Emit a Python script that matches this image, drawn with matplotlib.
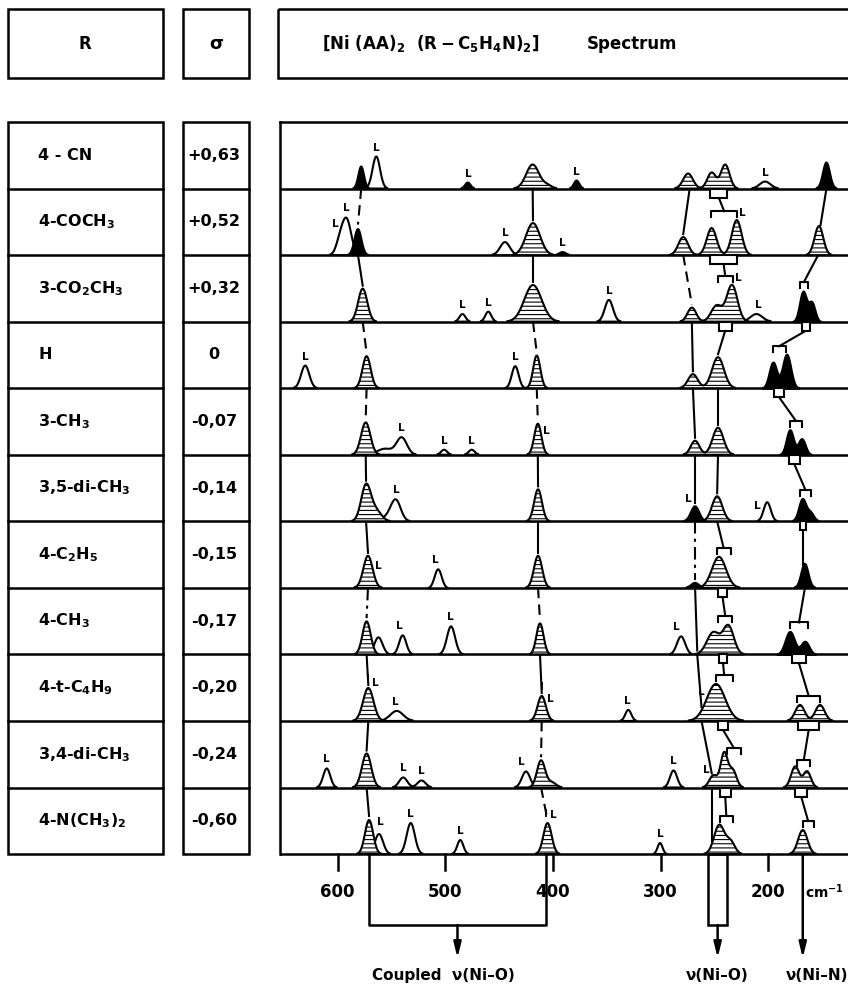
import numpy as np
import matplotlib.pyplot as plt
from matplotlib.patches import Rectangle

plt.rcParams["font.family"] = ["DejaVu Sans"]
plt.rcParams["font.weight"] = "bold"
plt.rcParams["mathtext.default"] = "regular"
plt.rcParams["hatch.linewidth"] = 0.8
plt.rcParams["hatch.color"] = "black"

# -------------------------
# table data
# -------------------------
substituents = ["4 - CN", "4-COCH$_3$", "3-CO$_2$CH$_3$", "H", "3-CH$_3$",
                "3,5-di-CH$_3$", "4-C$_2$H$_5$", "4-CH$_3$", "4-t-C$_4$H$_9$",
                "3,4-di-CH$_3$", "4-N(CH$_3$)$_2$"]
sigma_values = ["+0,63", "+0,52", "+0,32", "0", "-0,07", "-0,14", "-0,15",
                "-0,17", "-0,20", "-0,24", "-0,60"]

# bands: (wavenumber cm-1, height, half width cm-1, kind)
# kind: h = hatched, b = black, o = open (ligand)
bands_cn = [(578, 22, 2.6, "b"), (564, 32, 3.5, "o"), (479, 6, 2.5, "b"),
            (418.8, 24, 6.0, "h"), (405, 3, 4, "h"), (378, 8, 2.5, "b"),
            (274.5, 15, 4.5, "h"), (252.6, 16, 4.0, "h"), (240, 24, 4.0, "h"),
            (203, 7, 5.0, "o"), (146, 26, 3.2, "b")]
bands_coch3 = [(598, 12, 3.5, "o"), (591.5, 35, 4.2, "o"), (581, 26, 3.2, "b"),
               (444.5, 13, 4.5, "o"), (418.5, 32, 6.5, "h"), (391, 3, 3, "b"),
               (279, 18, 4.5, "h"), (252.6, 27, 4.5, "h"), (229.3, 35, 4.5, "h"),
               (153, 29, 4.0, "h")]
bands_co2ch3 = [(576.6, 33, 4.2, "h"), (484, 7.6, 2.8, "o"), (460, 10, 2.8, "o"),
                (418.5, 36.6, 8.0, "h"), (348, 21.7, 3.8, "o"), (271, 14, 4.0, "h"),
                (248, 16, 5.0, "h"), (233.7, 36.6, 5.0, "h"), (211, 7.6, 5.5, "o"),
                (167.8, 30, 3.2, "b"), (159.7, 19, 3.0, "b")]
bands_h = [(630, 22.6, 3.8, "o"), (573, 32, 3.8, "h"), (435, 22, 3.2, "o"),
           (415, 32.6, 3.3, "h"), (270, 14, 4.5, "h"), (246.7, 31, 5.5, "h"),
           (195.7, 26, 3.5, "b"), (183, 34, 3.8, "b")]
bands_3ch3 = [(573.8, 32.3, 4.3, "h"), (556, 6, 7, "o"), (540.4, 17, 4.8, "o"),
              (501, 5, 2.8, "o"), (475.4, 5, 2.8, "o"), (414, 31, 3.3, "h"),
              (268, 14, 4.0, "h"), (246.7, 27, 5.0, "h"), (180, 25, 3.3, "b"),
              (169, 16, 3.3, "b")]
bands_35 = [(573.5, 36, 4.5, "h"), (564, 10, 5, "h"), (552, 5, 6, "o"),
            (545.7, 19, 4.5, "o"), (413.8, 32, 3.6, "h"), (268, 15, 3.8, "b"),
            (247.5, 25, 4.8, "h"), (201, 19, 3.3, "o"), (168, 22, 3.3, "b"),
            (160.5, 8, 3.0, "b")]
bands_c2h5 = [(571.7, 32, 4.3, "h"), (507, 19, 3.3, "o"), (413.8, 32, 3.8, "h"),
              (268, 5, 3.5, "b"), (245.8, 31, 6.5, "h"), (166, 24, 3.3, "b")]
bands_ch3 = [(573, 33, 3.8, "h"), (562, 17, 3.8, "o"), (539.5, 19, 3.3, "o"),
             (494.6, 28, 3.8, "o"), (412, 31, 3.3, "h"), (281, 18, 3.8, "o"),
             (251, 22, 6, "h"), (237, 28, 5.0, "h"), (180, 23, 4.3, "b"),
             (166, 13, 3.8, "b")]
bands_tbu = [(571.4, 33, 4.8, "h"), (545, 10, 6, "o"), (410.4, 25, 3.8, "h"),
             (330, 11, 2.8, "o"), (248.6, 37, 8.5, "h"), (170.6, 16, 4.3, "h"),
             (152, 16, 4.3, "h")]
bands_34 = [(610, 19, 3.3, "o"), (573, 34, 4.3, "h"), (539, 10, 3.8, "o"),
            (522, 7, 3.8, "o"), (425, 16, 3.8, "o"), (411, 27, 3.8, "h"),
            (401, 5, 4, "h"), (288, 17, 3.3, "o"), (251, 12, 3.8, "h"),
            (241, 34, 3.3, "h"), (233, 17, 3.5, "h"), (175, 21, 3.8, "h"),
            (164, 16, 3.5, "h")]
bands_nme2 = [(570.7, 34, 3.8, "h"), (561.5, 20, 3.8, "o"), (532, 31, 3.8, "o"),
              (486, 14, 2.8, "o"), (405, 31, 3.8, "h"), (300.5, 11, 2.3, "o"),
              (245.5, 29, 4.8, "h"), (235, 12, 4, "h"), (168, 24, 4.3, "h")]

bands = [bands_cn, bands_coch3, bands_co2ch3, bands_h, bands_3ch3, bands_35,
         bands_c2h5, bands_ch3, bands_tbu, bands_34, bands_nme2]

# ligand band marks "L"
ligand_marks = [[564, 479, 378, 203],
                [602, 592, 444.5, 391, 224],
                [484, 460, 348, 228, 209],
                [630, 435],
                [540.4, 501, 475.4, 406],
                [545.7, 274, 210],
                [562, 509],
                [543, 495.6, 285],
                [565, 546, 402, 331, 262],
                [610, 539, 522, 429, 288, 258],
                [560, 532, 486, 400, 300.5]]
i_marks = [[], [], [], [], [], [], [], [], [572, 410.5], [], [406.5]]

# correlation tracks (one wavenumber per row)
track_575 = [578, 581, 576.6, 573, 573.8, 573.5, 571.7, 573, 571.4, 573, 570.7]
style_575 = ["--", "-", "--", "--", "-", "-", "-.", "-", "-", "-"]
track_415 = [418.8, 418.5, 418.5, 415, 414, 413.8, 413.8, 412, 410.4, 411, 405]
style_415 = ["-", "-", "--", "--", "-", "-", "--", "-", "--", "--"]
track_270 = [273, 279, 271, 270, 268, 268, 268, 266, 262, 252.5, 252.5]
style_270 = ["-", "--", "-", "-", "-", "-.", "-", "-", "-", "-"]

# Ni-O track (245) and Ni-N track (165): source, target, box and bracket half widths
nio_src = [246, 241.5, 240, 246.7, 246.7, 247.5, 242.5, 242, 242, 240]
nio_dst = [241, 240, 246.7, 246.7, 247.5, 241.5, 240, 241, 232, 239]
nio_box = [8, 12.5, 6, 0, 0, 0, 4, 4, 5, 5]
nio_brk = [12, 7, 0, 0, 0, 6.5, 6.5, 8, 6.5, 6]
nin_src = [146, 153.7, 165, 190, 176, 168, 166, 171.5, 162.5, 169.5]
nin_dst = [151.5, 167, 190, 174.5, 165.5, 168, 171.5, 162.5, 167, 163]
nin_box = [0, 0, 4, 5, 5, 3, 0, 6.5, 10, 5.5]
nin_brk = [0, 4, 6, 5.5, 5.5, 0, 8.5, 10.5, 6, 5]

tick_values = [600, 500, 400, 300, 200]
coupled_range = [570.7, 406.5]
nio_range = [255.8, 238.3]
nin_position = 168

# -------------------------
# layout (pixels of the 848x989 picture)
# -------------------------
W, H = 848, 989
table_top, row_h = 122, 66.55
n_rows = len(substituents)
table_bottom = table_top + n_rows * row_h
lw = 1.8

fig = plt.figure(figsize=(W / 100, H / 100), dpi=100)
ov = fig.add_axes([0, 0, 1, 1])
ov.set_xlim(0, W)
ov.set_ylim(H, 0)
ov.axis("off")

# header boxes
for x0, x1 in [(8, 163), (183, 249), (278, 852)]:
    ov.add_patch(Rectangle((x0, 9), x1 - x0, 69, fill=False, lw=lw, ec="black"))
ov.text(85, 44, "R", ha="center", va="center", fontsize=12)
ov.text(216, 44, "σ", ha="center", va="center", fontsize=13)
ov.text(322, 44, r"$\left[\mathbf{Ni\ (AA)_2\ \ (R - C_5H_4N)_2}\right]$",
        ha="left", va="center", fontsize=12)
ov.text(587, 44, "Spectrum", ha="left", va="center", fontsize=12)

# R and sigma columns
for x0, x1 in [(8, 163), (183, 249)]:
    ov.add_patch(Rectangle((x0, table_top), x1 - x0, n_rows * row_h,
                           fill=False, lw=lw, ec="black"))
    for k in range(1, n_rows):
        y = table_top + k * row_h
        ov.plot([x0, x1], [y, y], color="black", lw=lw)

for i, (name, sig) in enumerate(zip(substituents, sigma_values)):
    yc = table_top + (i + 0.5) * row_h
    ov.text(38, yc, name, ha="left", va="center", fontsize=11.5)
    ov.text(214, yc, sig, ha="center", va="center", fontsize=11.5)

# -------------------------
# spectrum panel: x in cm-1, y in rows (row i baseline at 10 - i)
# -------------------------
nu_left, nu_right = 653.4, 126
ax = fig.add_axes([280 / W, 0, (W - 280) / W, (H - table_top) / H])
ax.set_xlim(nu_left, nu_right)
ax.set_ylim(-(H - table_bottom) / row_h, n_rows)
ax.axis("off")
ax.patch.set_alpha(0)


def base(row):
    return n_rows - 1 - row


def envelope(row, nu):
    total = 0.0
    for c, h, w, kind in bands[row]:
        total += h * np.exp(-0.5 * ((nu - c) / w) ** 2)
    return total


def top_in(row, nu, hw):
    xs = np.linspace(nu - hw, nu + hw, 41)
    return max(envelope(row, x) for x in xs)


# frame and baselines
ax.plot([nu_left, nu_left], [0, n_rows], color="black", lw=lw, clip_on=False)
ax.plot([nu_left, nu_right], [n_rows, n_rows], color="black", lw=lw, clip_on=False)
for i in range(n_rows):
    ax.plot([nu_left, nu_right], [base(i), base(i)], color="black", lw=lw, zorder=2)

grid = np.linspace(nu_right, nu_left, 5000)
kinds = [("o", "white", None, 3), ("h", "white", "----", 4), ("b", "black", None, 5)]
for i, row_bands in enumerate(bands):
    b0 = base(i)
    for kind, face, hatch, z in kinds:
        y = np.zeros_like(grid)
        for c, h, w, k in row_bands:
            if k == kind:
                y += h * np.exp(-0.5 * ((grid - c) / w) ** 2)
        if y.max() == 0:
            continue
        ax.fill_between(grid, b0, b0 + y / row_h, where=y > 0.4, interpolate=True,
                        facecolor=face, edgecolor="black", hatch=hatch,
                        linewidth=1.5, zorder=z)
    for nu in ligand_marks[i]:
        ax.text(nu, b0 + (top_in(i, nu, 4) + 4) / row_h, "L", ha="center",
                va="bottom", fontsize=7.5, zorder=6)
    for nu in i_marks[i]:
        ax.text(nu, b0 + (top_in(i, nu, 4) + 4) / row_h, "I", ha="center",
                va="bottom", fontsize=7.5, zorder=6)

dash_styles = {"-": "-", "--": (0, (5, 3)), "-.": (0, (6, 2.5, 1.5, 2.5))}


def plain_track(track, styles):
    for i in range(n_rows - 1):
        x0, x1 = track[i], track[i + 1]
        y0 = base(i)
        y1 = base(i + 1) + (envelope(i + 1, x1) + 3) / row_h
        ax.plot([x0, x1], [y0, y1], color="black", lw=1.5,
                linestyle=dash_styles[styles[i]], zorder=2)


def bracket_track(src, dst, box, brk):
    depth = 9 / row_h
    for i in range(n_rows - 1):
        y0 = base(i)
        if box[i] > 0:
            ax.add_patch(Rectangle((src[i] - box[i], y0 - depth), 2 * box[i], depth,
                                   facecolor="white", edgecolor="black", lw=1.5, zorder=5))
            y0 = y0 - depth
        if brk[i] > 0:
            y1 = base(i + 1) + (top_in(i + 1, dst[i], brk[i]) + 9) / row_h
            tick = 6 / row_h
            ax.plot([dst[i] - brk[i], dst[i] - brk[i], dst[i] + brk[i], dst[i] + brk[i]],
                    [y1 - tick, y1, y1, y1 - tick], color="black", lw=1.5, zorder=5)
        else:
            y1 = base(i + 1) + (envelope(i + 1, dst[i]) + 3) / row_h
        ax.plot([src[i], dst[i]], [y0, y1], color="black", lw=1.5, zorder=2)


plain_track(track_575, style_575)
plain_track(track_415, style_415)
plain_track(track_270, style_270)
bracket_track(nio_src, nio_dst, nio_box, nio_brk)
bracket_track(nin_src, nin_dst, nin_box, nin_brk)

# -------------------------
# wavenumber scale and assignments
# -------------------------
tick_len = 16 / row_h
label_y = -38 / row_h
for t in tick_values:
    ax.plot([t, t], [0, -tick_len], color="black", lw=lw, clip_on=False)
    ax.text(t, label_y, str(t), ha="center", va="center", fontsize=12)
ax.text(166, label_y, "cm$^{-1}$", ha="left", va="center", fontsize=10)

y_bar = -71 / row_h
y_tip = -104 / row_h
y_text = -121 / row_h
head = dict(arrowstyle="-|>,head_length=0.9,head_width=0.22", lw=1.8, color="black",
            shrinkA=0, shrinkB=0)

ax.plot([coupled_range[0], coupled_range[0], coupled_range[1], coupled_range[1]],
        [0, y_bar, y_bar, 0], color="black", lw=lw, clip_on=False)
mid = (coupled_range[0] + coupled_range[1]) / 2
ax.annotate("", xy=(mid, y_tip), xytext=(mid, y_bar), arrowprops=head)
ax.text(mid + 13, y_text, "Coupled  ν(Ni–O)", ha="center", va="center", fontsize=11)

ax.add_patch(Rectangle((min(nio_range), y_bar), abs(nio_range[0] - nio_range[1]), -y_bar,
                       fill=False, lw=lw, ec="black", clip_on=False))
mid_o = (nio_range[0] + nio_range[1]) / 2
ax.annotate("", xy=(mid_o, y_tip), xytext=(mid_o, y_bar), arrowprops=head)
ax.text(mid_o, y_text, "ν(Ni–O)", ha="center", va="center", fontsize=11)

ax.annotate("", xy=(nin_position, y_tip), xytext=(nin_position, 0), arrowprops=head)
ax.text(nin_position + 16, y_text, "ν(Ni–N)", ha="left", va="center", fontsize=11)

fig.savefig("out.png", dpi=100)
